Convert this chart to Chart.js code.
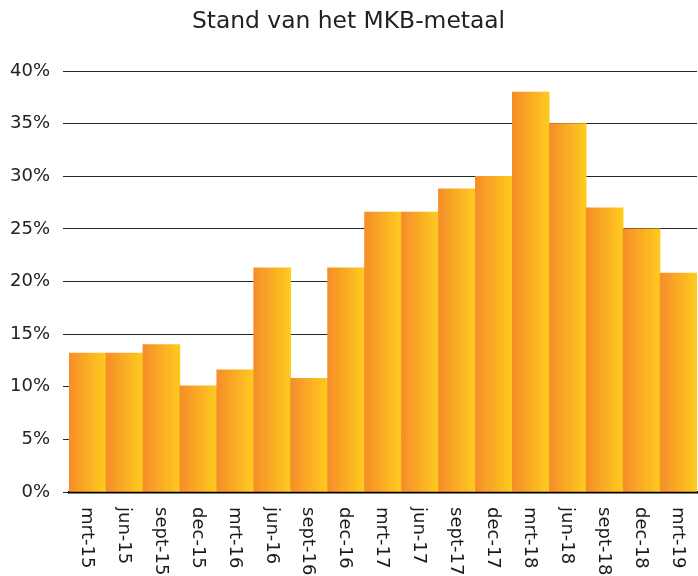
<!DOCTYPE html>
<html>
<head>
<meta charset="utf-8">
<script src="https://cdn.jsdelivr.net/npm/chart.js@4/dist/chart.umd.min.js"></script>
<style>
  html, body { margin: 0; padding: 0; background: #ffffff; }
  #wrap { width: 698px; height: 576px; position: relative; }
</style>
</head>
<body>
<div id="wrap"><canvas id="c"></canvas></div>
<script>
const categories = ["mrt-15","jun-15","sept-15","dec-15","mrt-16","jun-16","sept-16","dec-16","mrt-17","jun-17","sept-17","dec-17","mrt-18","jun-18","sept-18","dec-18","mrt-19"];
const mkbMetaal = [13.2, 13.2, 14.0, 10.1, 11.6, 21.3, 10.8, 21.3, 26.6, 26.6, 28.8, 30.0, 38.0, 35.0, 27.0, 25.0, 20.8];
const yTicks = [0, 5, 10, 15, 20, 25, 30, 35, 40];
const titleText = "Stand van het MKB-metaal";

const FONT = "'DejaVu Sans', Verdana, sans-serif";

function barGradient(context) {
  const chart = context.chart;
  const area = chart.chartArea;
  const xs = chart.scales.x;
  if (!area || !xs) return '#F9A825';
  const cx = xs.getPixelForValue(context.dataIndex);
  const half = area.width / categories.length / 2;
  const g = chart.ctx.createLinearGradient(cx - half, 0, cx + half, 0);
  g.addColorStop(0, '#F68D2A');
  g.addColorStop(1, '#FECB1E');
  return g;
}

const rotatedLabels = {
  id: 'rotatedLabels',
  afterDraw(chart) {
    const ctx = chart.ctx;
    const xs = chart.scales.x;
    const bottom = chart.chartArea.bottom;
    ctx.save();
    ctx.font = "18px " + FONT;
    ctx.fillStyle = '#1a1a1a';
    ctx.textAlign = 'left';
    ctx.textBaseline = 'middle';
    categories.forEach((lab, i) => {
      const x = xs.getPixelForValue(i);
      ctx.save();
      ctx.translate(x - 1, bottom + 15);
      ctx.rotate(Math.PI / 2);
      ctx.fillText(lab, 0, 0);
      ctx.restore();
    });
    ctx.restore();
  }
};

new Chart(document.getElementById('c'), {
  type: 'bar',
  data: {
    labels: categories,
    datasets: [{
      data: mkbMetaal,
      backgroundColor: barGradient,
      borderWidth: 0,
      categoryPercentage: 1.0,
      barPercentage: 1.0
    }]
  },
  options: {
    responsive: true,
    maintainAspectRatio: false,
    animation: false,
    layout: { padding: { left: 0, right: 1, top: 0, bottom: 84 } },
    plugins: {
      legend: { display: false },
      tooltip: { enabled: false },
      title: {
        display: true,
        text: titleText,
        color: '#222222',
        font: { family: FONT, size: 23.4, weight: 'normal' },
        padding: { top: 8, bottom: 35 }
      }
    },
    scales: {
      x: {
        grid: { display: false, drawTicks: false },
        border: { display: true, color: '#000000', width: 2.5 },
        ticks: { display: false }
      },
      y: {
        min: 0,
        max: 40,
        z: 1,
        afterBuildTicks(scale) { scale.ticks = yTicks.map(v => ({ value: v })); },
        afterFit(scale) { scale.width = 69; },
        grid: { color: 'rgba(0,0,0,0.85)', lineWidth: 1, tickLength: 6, drawTicks: true },
        border: { display: false },
        ticks: {
          color: '#222222',
          padding: 13,
          font: { family: FONT, size: 18 },
          callback: v => v + '%'
        }
      }
    }
  },
  plugins: [rotatedLabels]
});
</script>
</body>
</html>
